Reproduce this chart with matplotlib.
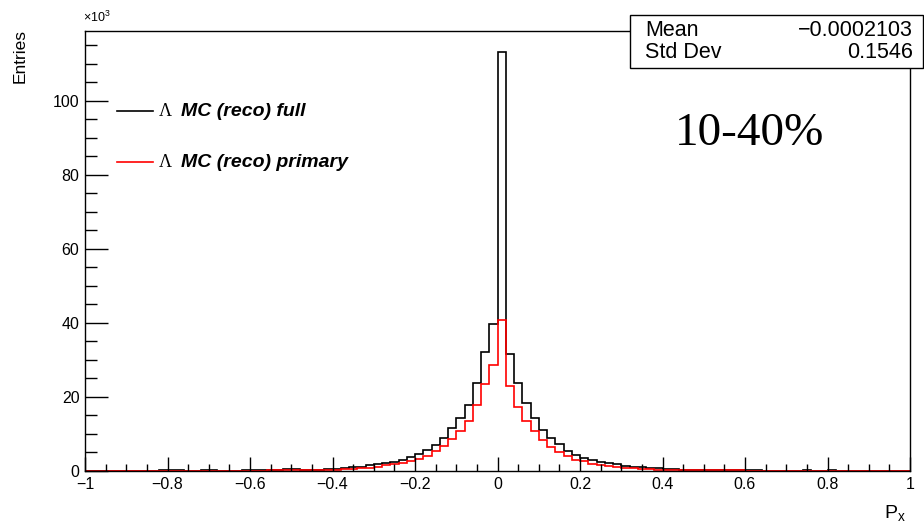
import numpy as np
import matplotlib
matplotlib.use("Agg")
from matplotlib import pyplot as plt
from matplotlib.patches import Rectangle
from matplotlib.lines import Line2D
from matplotlib.ticker import MultipleLocator

plt.rcParams['font.family'] = 'Liberation Sans'
plt.rcParams['mathtext.fontset'] = 'custom'
plt.rcParams['mathtext.rm'] = 'Liberation Sans'
plt.rcParams['mathtext.it'] = 'Liberation Sans:italic'

# 100 bins from -1 to 1, entries in units of 10^3
edges = np.linspace(-1, 1, 101)
full = [0.05, 0.05, 0.05, 0.05, 0.05, 0.05, 0.05, 0.05, 0.05, 0.2,
        0.2, 0.2, 0.1, 0.1, 0.15, 0.15, 0.1, 0.1, 0.1, 0.15,
        0.15, 0.2, 0.2, 0.3, 0.45, 0.45, 0.3, 0.3, 0.35, 0.55,
        0.6, 0.8, 1.0, 1.2, 1.5, 1.8, 2.1, 2.5, 3.0, 3.7,
        4.5, 5.7, 6.9, 9.0, 11.5, 14.4, 17.9, 23.8, 32.1, 39.6,
        113.2, 31.6, 23.9, 18.3, 14.4, 11.1, 8.8, 7.2, 5.5, 4.3,
        3.5, 2.9, 2.4, 2.2, 1.9, 1.4, 1.1, 1.0, 0.8, 0.7,
        0.5, 0.45, 0.4, 0.35, 0.3, 0.3, 0.3, 0.25, 0.2, 0.2,
        0.15, 0.15, 0.1, 0.1, 0.1, 0.1, 0.1, 0.3, 0.1, 0.1,
        0.25, 0.05, 0.05, 0.05, 0.05, 0.05, 0.05, 0.05, 0.05, 0.05]
primary = [0.03, 0.03, 0.03, 0.03, 0.03, 0.03, 0.03, 0.03, 0.03, 0.03,
           0.05, 0.05, 0.05, 0.05, 0.05, 0.05, 0.05, 0.05, 0.08, 0.08,
           0.1, 0.1, 0.15, 0.15, 0.2, 0.2, 0.3, 0.3, 0.3, 0.35,
           0.4, 0.5, 0.6, 0.7, 0.9, 1.2, 1.5, 1.8, 2.2, 2.7,
           3.2, 4.1, 5.3, 6.7, 8.7, 10.8, 13.5, 17.7, 23.4, 28.6,
           40.9, 22.9, 17.3, 13.4, 10.8, 8.4, 6.4, 5.2, 4.0, 3.0,
           2.6, 2.0, 1.7, 1.4, 1.1, 0.9, 0.7, 0.6, 0.5, 0.4,
           0.35, 0.3, 0.3, 0.3, 0.25, 0.2, 0.2, 0.2, 0.15, 0.15,
           0.1, 0.1, 0.1, 0.1, 0.1, 0.1, 0.1, 0.1, 0.1, 0.1,
           0.05, 0.05, 0.05, 0.05, 0.05, 0.05, 0.05, 0.05, 0.05, 0.05]
labels = ["MC (reco) full", "MC (reco) primary"]
colors = ["black", "red"]
stat_names = ["Mean", "Std Dev"]
stat_values = ["\u22120.0002103", "0.1546"]
xticks = [-1, -0.8, -0.6, -0.4, -0.2, 0, 0.2, 0.4, 0.6, 0.8, 1]
xticklabels = ["\u22121", "\u22120.8", "\u22120.6", "\u22120.4", "\u22120.2", "0",
               "0.2", "0.4", "0.6", "0.8", "1"]
yticks = [0, 20, 40, 60, 80, 100]

W, H = 924, 526


def px(x, y):
    return x / W, 1 - y / H


fig = plt.figure(figsize=(W / 100, H / 100), dpi=100)
ax = fig.add_axes([85 / W, 1 - 471 / H, 825 / W, 440 / H])

ax.stairs(full, edges, color=colors[0], lw=1.2, baseline=None)
ax.stairs(primary, edges, color=colors[1], lw=1.2, baseline=None)

ax.set_xlim(-1, 1)
ax.set_ylim(0, 1.05 * max(full))
ax.set_xticks(xticks)
ax.set_xticklabels(xticklabels)
ax.set_yticks(yticks)
ax.xaxis.set_minor_locator(MultipleLocator(0.05))
ax.yaxis.set_minor_locator(MultipleLocator(5))
ax.tick_params(axis='x', which='major', direction='in', length=10, width=1, labelsize=11.5, pad=4)
ax.tick_params(axis='x', which='minor', direction='in', length=5, width=1)
ax.tick_params(axis='y', which='major', direction='in', length=16.5, width=1, labelsize=11.5, pad=4)
ax.tick_params(axis='y', which='minor', direction='in', length=8.5, width=1)
for s in ax.spines.values():
    s.set_linewidth(1)

# axis titles
fig.text(*px(20, 29), "Entries", rotation=90, ha='center', va='top', fontsize=12.5)
fig.text(*px(83, 25), "\u00d710$^{3}$", ha='left', va='bottom', fontsize=9)
fig.text(*px(906, 523), "P$_{\\mathrm{x}}$", ha='right', va='bottom', fontsize=14)

# legend
ys = [111, 162]
for y, lab, c in zip(ys, labels, colors):
    fig.add_artist(Line2D([117 / W, 153 / W], [1 - y / H] * 2, color=c, lw=1.2))
    fig.text(*px(159, y), "\u039b", ha='left', va='center', fontsize=13,
             family='Liberation Serif')
    fig.text(*px(181, y), lab, ha='left', va='center', fontsize=14,
             fontweight='bold', fontstyle='italic')

# stats box
fig.add_artist(Rectangle(px(630, 68), (924 - 631) / W, 53.5 / H,
                         transform=fig.transFigure, facecolor='white',
                         edgecolor='black', lw=1, zorder=5))
for i, (n, v) in enumerate(zip(stat_names, stat_values)):
    y = 30 + 23 * i
    fig.text(*px(645, y), n, ha='left', va='center', fontsize=15.5, zorder=6)
    fig.text(*px(913, y), v, ha='right', va='center', fontsize=15.5, zorder=6)

fig.text(*px(750, 134), "10-40%", ha='center', va='center', fontsize=34,
         family='Liberation Serif')

fig.savefig("out.png", dpi=100)
